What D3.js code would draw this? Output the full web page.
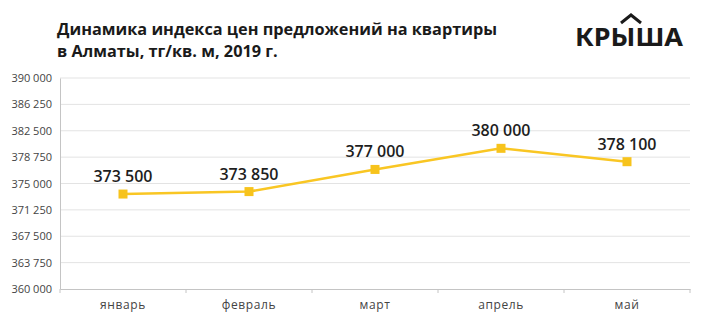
<!DOCTYPE html>
<html><head><meta charset="utf-8">
<script src="https://cdn.jsdelivr.net/npm/d3@7"></script>
<style>body{margin:0;background:#fff}svg{display:block}</style>
</head><body>
<svg id="c" width="705" height="327"></svg>
<script>
const months = ["январь","февраль","март","апрель","май"];
const values = [373500,373850,377000,380000,378100];
const valueLabels = ["373 500","373 850","377 000","380 000","378 100"];
const yTicks = [360000,363750,367500,371250,375000,378750,382500,386250,390000];
const titleLines = ["Динамика индекса цен предложений на квартиры","в Алматы, тг/кв. м, 2019 г."];

const svg = d3.select("#c");
const m = {l:60, r:690, t:78, b:289};
const x = d3.scaleBand().domain(months).range([m.l, m.r]);
const y = d3.scaleLinear().domain([360000,390000]).range([m.b, m.t]);
const fmt = v => d3.format(",")(v).replace(/,/g," ");
const font = "'Open Sans', 'Noto Sans', sans-serif";

// grid
svg.append("g").selectAll("line").data(yTicks.slice(1)).join("line")
  .attr("x1", m.l).attr("x2", m.r).attr("y1", d=>y(d)).attr("y2", d=>y(d))
  .attr("stroke","#e3e3e3").attr("stroke-width",1);

// y axis
const ya = svg.append("g").attr("transform",`translate(${m.l},0)`)
  .call(d3.axisLeft(y).tickValues(yTicks).tickFormat(fmt).tickSize(0).tickPadding(8));
ya.select(".domain").attr("stroke","#c4c4c4");
ya.selectAll("text").attr("font-family",font).attr("font-size",11).attr("fill","#444");

// x axis
const xa = svg.append("g").attr("transform",`translate(0,${m.b})`)
  .call(d3.axisBottom(x).tickSize(0).tickPadding(11));
xa.select(".domain").attr("stroke","#c4c4c4");
xa.selectAll("text").attr("font-family",font).attr("font-size",12)
  .attr("letter-spacing",0.6).attr("fill","#444");
const bounds = months.map(d=>x(d)).concat([m.r]);
svg.append("g").selectAll("line").data(bounds).join("line")
  .attr("x1",d=>d).attr("x2",d=>d).attr("y1",m.b).attr("y2",m.b+4)
  .attr("stroke","#c4c4c4");

// line
const cx = d => x(d) + x.bandwidth()/2;
const pts = months.map((mo,i)=>({mo, v:values[i], lab:valueLabels[i]}));
svg.append("path").datum(pts)
  .attr("d", d3.line().x(d=>cx(d.mo)).y(d=>y(d.v)))
  .attr("fill","none").attr("stroke","#F9C623").attr("stroke-width",2.5);
svg.append("g").selectAll("rect").data(pts).join("rect")
  .attr("x",d=>cx(d.mo)-4.5).attr("y",d=>y(d.v)-4.5).attr("width",9).attr("height",9)
  .attr("fill","#F7C31C");
svg.append("g").selectAll("text").data(pts).join("text")
  .attr("x",d=>cx(d.mo)).attr("y",d=>y(d.v)-12)
  .attr("text-anchor","middle").attr("font-family",font).attr("font-size",16)
  .attr("font-weight",600).attr("fill","#1e1e1e").text(d=>d.lab);

// title
svg.append("g").selectAll("text").data(titleLines).join("text")
  .attr("x",57).attr("y",(d,i)=>35+i*22)
  .attr("font-family",font).attr("font-size",16.3).attr("font-weight",700)
  .attr("fill","#1a1a1a").text(d=>d);

// logo
svg.append("text").attr("x",575).attr("y",46).attr("font-family","'Noto Sans', sans-serif")
  .attr("font-size",25).attr("font-weight",700).attr("fill","#1a1a1a")
  .attr("textLength",108).attr("lengthAdjust","spacingAndGlyphs").text("КРЫША");
svg.append("path").attr("d","M621,23 L631,15 L641,23").attr("fill","none")
  .attr("stroke","#1a1a1a").attr("stroke-width",3);
</script>
</body></html>
